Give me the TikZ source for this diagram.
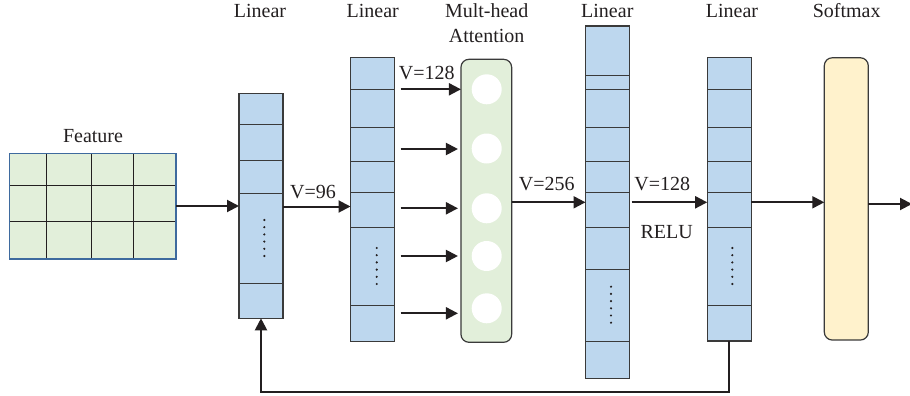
\documentclass[tikz,border=0pt]{standalone}
\usepackage{fontspec}
\setmainfont{Liberation Serif}
\usetikzlibrary{arrows.meta,calc}
\definecolor{colblue}{HTML}{BDD7EE}
\definecolor{attgreen}{HTML}{E2EFDA}
\definecolor{softyellow}{HTML}{FFF2CC}
\definecolor{edgegray}{HTML}{3A3A3A}
\definecolor{featedge}{HTML}{3E6A9E}
\definecolor{ink}{HTML}{231F20}
\begin{document}
\begin{tikzpicture}[x=1pt,y=-1pt,
  colbox/.style={draw=edgegray,line width=1.2pt,fill=colblue,minimum width=44pt,inner sep=0pt,outer sep=0pt},
  attbox/.style={draw=edgegray,line width=1.2pt,fill=attgreen,rounded corners=8pt,minimum width=50.7pt,inner sep=0pt,outer sep=0pt},
  softbox/.style={draw=edgegray,line width=1.2pt,fill=softyellow,rounded corners=8pt,minimum width=44pt,inner sep=0pt,outer sep=0pt},
  featbox/.style={draw=featedge,line width=1.2pt,fill=attgreen,minimum width=166.5pt,minimum height=105.7pt,inner sep=0pt,outer sep=0pt},
  divider/.style={draw=edgegray,line width=0.9pt},
  gridline/.style={draw=ink,line width=1pt},
  head/.style={circle,fill=white,minimum size=30pt,inner sep=0pt},
  arr/.style={draw=ink,line width=2pt,-{Triangle[length=12pt,width=12pt]}},
  lab/.style={text=ink,font=\fontsize{20}{26}\selectfont,anchor=base,inner sep=0pt,align=center},
  dotmark/.style={fill=ink,circle,inner sep=0pt,minimum size=2.4pt}
]
\useasboundingbox (0,0) rectangle (910,396);
\clip (0,0) rectangle (910,396);

% Feature grid
\node[featbox] (feat) at (92.8,206.2) {};
\foreach \gx in {46,91.7,133.3}
  \draw[gridline] (feat.north -| \gx,0) -- (feat.south -| \gx,0);
\foreach \gy in {185,221.7}
  \draw[gridline] (feat.west |- 0,\gy) -- (feat.east |- 0,\gy);
\draw[draw=featedge,line width=1.2pt] (feat.north west) rectangle (feat.south east);
\node[lab] (featlab) at (93,142.7) {Feature};

% Columns
\node[colbox,minimum height=225pt] (col1) at (261,205.8) {};
\node[colbox,minimum height=284pt] (col2) at (372.5,199.7) {};
\node[attbox,minimum height=283pt] (att) at (486.3,200.8) {};
\node[colbox,minimum height=352.3pt] (col3) at (607.5,202.2) {};
\node[colbox,minimum height=283.3pt] (col4) at (729.2,199.4) {};
\node[softbox,minimum height=282.3pt] (soft) at (846.3,198.9) {};

% dividers
\foreach \dy in {124,160.7,193.3,283.3}
  \draw[divider] (col1.west |- 0,\dy) -- (col1.east |- 0,\dy);
\foreach \dy in {89.3,127.3,161,192.7,227.3,305}
  \draw[divider] (col2.west |- 0,\dy) -- (col2.east |- 0,\dy);
\foreach \dy in {75,89.3,127.3,161,192.7,227.3,269.3,341.7}
  \draw[divider] (col3.west |- 0,\dy) -- (col3.east |- 0,\dy);
\foreach \dy in {89.3,127.3,161,192.7,227.3,305}
  \draw[divider] (col4.west |- 0,\dy) -- (col4.east |- 0,\dy);

% dots
\foreach \k in {0,...,5} {
  \node[dotmark] at (264.3,220+7.2*\k) {};
  \node[dotmark] at (376.7,248+7.2*\k) {};
  \node[dotmark] at (611,286.7+7.2*\k) {};
  \node[dotmark] at (732.3,248+7.2*\k) {};
}

% attention heads
\node[head] (h1) at (486.7,89.3) {};
\node[head] (h2) at (486.7,148.5) {};
\node[head] (h3) at (486.7,208.3) {};
\node[head] (h4) at (486.7,256) {};
\node[head] (h5) at (486.7,308.3) {};

% labels
\node[lab] (l1) at (260,17.3) {Linear};
\node[lab] (l2) at (372.7,17.3) {Linear};
\node[lab] (l3) at (486.7,17.3) {Mult-head};
\node[lab] (l3b) at (486.7,43) {Attention};
\node[lab] (l4) at (607.3,17.3) {Linear};
\node[lab] (l5) at (732,17.3) {Linear};
\node[lab] (l6) at (846.7,17.3) {Softmax};

\node[lab] (v96) at (313,198.3) {V=96};
\node[lab] (v128a) at (426.7,79.3) {V=128};
\node[lab] (v256) at (546.7,190.7) {V=256};
\node[lab] (v128b) at (662.3,190.7) {V=128};
\node[lab] (relu) at (666.7,238.3) {RELU};

% connectors
\draw[arr] (feat.east |- 0,206) -- (col1.west |- 0,206);
\draw[arr] (col1.east |- 0,206.5) -- (col2.west |- 0,206.5);
\draw[arr] ([xshift=6pt]col2.east |- 0,89.3) -- (att.west |- 0,89.3);
\foreach \ay in {149,208.3,256,313.3}
  \draw[arr] ([xshift=6pt]col2.east |- 0,\ay) -- ([xshift=-3pt]att.west |- 0,\ay);
\draw[arr] (att.east |- 0,202.3) -- (col3.west |- 0,202.3);
\draw[arr] ([xshift=2pt]col3.east |- 0,202.3) -- (col4.west |- 0,202.3);
\draw[arr] (col4.east |- 0,202.3) -- (soft.west |- 0,202.3);
\coordinate (outend) at (912,204);
\draw[arr] (soft.east |- outend) -- (outend);
\coordinate (fbturn) at (729.2,391.7);
\draw[arr] (col4.south) -- (fbturn) -| (col1.south);
\end{tikzpicture}
\end{document}
